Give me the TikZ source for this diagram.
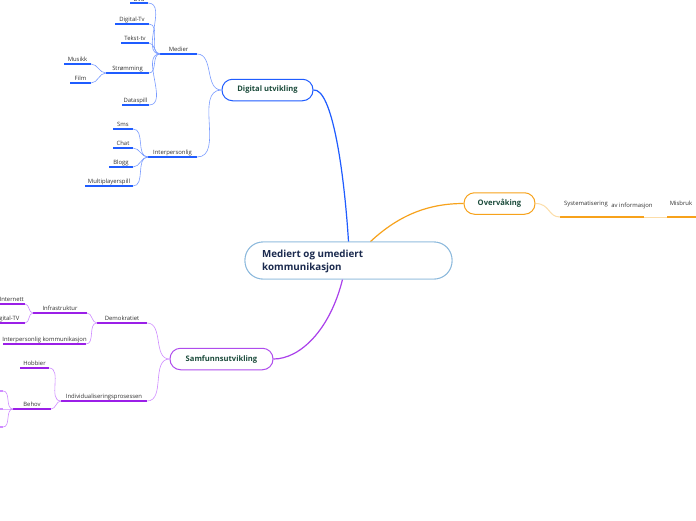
\documentclass[tikz,border=0pt]{standalone}
\usepackage{fontspec}
\setmainfont{Open Sans}
\definecolor{labc}{HTML}{333333}
\definecolor{bdark}{HTML}{1F5CFF}
\definecolor{blight}{HTML}{7A9CFF}
\definecolor{odark}{HTML}{F7A21B}
\definecolor{olight}{HTML}{FCDDA8}
\definecolor{pdark}{HTML}{9B1FE8}
\definecolor{plight}{HTML}{CF8CFF}
\definecolor{topictext}{HTML}{1B4B3B}
\definecolor{maintext}{HTML}{1B2A4E}
\definecolor{mainborder}{HTML}{8AB8DC}
\newcommand\leaf[6]{%
  \coordinate (#1-l) at (#2,#4);
  \coordinate (#1-r) at (#3,#4);
  \draw[#5] (#1-l) -- (#1-r);
  \node[lbl] (#1) at ({(#2+#3)/2},{#4-3}) {#6};
}
\begin{document}
\begin{tikzpicture}[x=1pt,y=-1pt,
  lbl/.style={font=\fontsize{5.9}{7}\selectfont, text=labc, inner sep=0pt, anchor=base},
  ulb/.style={draw=bdark, line width=1.3pt},
  cnb/.style={draw=blight, line width=0.6pt},
  ulo/.style={draw=odark, line width=1.3pt},
  cno/.style={draw=olight, line width=1pt},
  ulp/.style={draw=pdark, line width=1.3pt},
  cnp/.style={draw=plight, line width=0.6pt},
  topic/.style={rounded corners=10.5pt, line width=1pt, fill=white, minimum height=21.5pt,
     inner sep=0pt, font=\bfseries\fontsize{7.6}{9}\selectfont, text=topictext},
]
\useasboundingbox (0,0) rectangle (696,520);
\fill[white] (0,0) rectangle (696,520);
\clip (0,0) rectangle (696,520);

% ---------- main topic and connectors ----------
\node[draw=mainborder, line width=0.9pt, rounded corners=18pt, fill=white,
      minimum width=207pt, minimum height=37pt, inner sep=0pt] (mn) at (348.5,260.5) {};
\node[topic, draw=bdark, minimum width=91pt] (du) at (267.5,90) {Digital utvikling};
\node[topic, draw=odark, minimum width=71pt] (ov) at (499.5,203.5) {Overvåking};
\node[topic, draw=pdark!80!white, minimum width=103pt] (sam) at (221.5,359) {Samfunnsutvikling};

\draw[draw=bdark, line width=1.2pt] (du.east) .. controls (332,88) and (344,170) .. (mn.north);
\draw[draw=odark, line width=1.2pt] ([xshift=22pt]mn.north) .. controls (400,214) and (430,203.5) .. (ov.west);
\draw[draw=pdark!85!white, line width=1.2pt] ([xshift=-6pt]mn.south) .. controls (330,330) and (300,359) .. (sam.east);

\node[draw=mainborder, line width=0.9pt, rounded corners=18pt, fill=white,
      minimum width=207pt, minimum height=37pt, inner sep=0pt] (mn2) at (348.5,260.5) {};
\node[anchor=west, align=left, inner sep=0pt, text=maintext,
      font=\bfseries\fontsize{9.8}{13}\selectfont] (mt) at (262,261.5)
      {Mediert og umediert\\kommunikasjon};

% ---------- Digital utvikling ----------
\leaf{med}{160}{197}{54}{ulb}{Medier}
\leaf{inter}{148}{197}{157}{ulb}{Interpersonlig}
\draw[cnb] (du.west) to[out=180,in=0] (med-r);
\draw[cnb] (du.west) to[out=180,in=0] (inter-r);

\coordinate (dvd-l) at (130,3); \coordinate (dvd-r) at (148,3);
\draw[ulb] (dvd-l) -- (dvd-r);
\node[lbl] (dvd) at (139,1.3) {Dvd};
\leaf{dtv}{115}{149}{24}{ulb}{Digital-Tv}
\leaf{tekst}{121}{149}{43}{ulb}{Tekst-tv}
\leaf{strom}{106}{149}{73}{ulb}{Strømming}
\leaf{data}{122}{149}{105}{ulb}{Dataspill}
\foreach \c in {dvd,dtv,tekst,strom,data}{\draw[cnb] (\c-r) to[out=0,in=180] (med-l);}

\leaf{musikk}{64}{91}{64}{ulb}{Musikk}
\leaf{film}{70}{91}{83}{ulb}{Film}
\draw[cnb] (musikk-r) to[out=0,in=180] (strom-l);
\draw[cnb] (film-r) to[out=0,in=180] (strom-l);

\leaf{sms}{113}{133}{129}{ulb}{Sms}
\leaf{chat}{113}{133}{148}{ulb}{Chat}
\leaf{blogg}{109}{133}{167}{ulb}{Blogg}
\leaf{multi}{85}{133}{186}{ulb}{Multiplayerspill}
\foreach \c in {sms,chat,blogg,multi}{\draw[cnb] (\c-r) to[out=0,in=180] (inter-l);}

% ---------- Overvaking ----------
\coordinate (syst-l) at (560,217);
\coordinate (syst-r) at (644,217);
\draw[ulo] (syst-l) -- (syst-r);
\node[lbl] (syst) at (586,205) {Systematisering};
\node[lbl] (syst2) at (632,207) {av informasjon};
\draw[cno] (ov.east) .. controls (550,203.5) and (548,217) .. (syst-l);
\coordinate (misbruk-l) at (667,217); \coordinate (misbruk-r) at (700,217);
\draw[ulo] (misbruk-l) -- (misbruk-r);
\node[lbl] (misbruk) at (681,205) {Misbruk};
\draw[cno] (syst-r) -- (misbruk-l);

% ---------- Samfunnsutvikling ----------
\leaf{demo}{97}{147}{323}{ulp}{Demokratiet}
\leaf{indiv}{61}{147}{401}{ulp}{Individualiseringsprosessen}
\draw[cnp] (sam.west) to[out=180,in=0] (demo-r);
\draw[cnp] (sam.west) to[out=180,in=0] (indiv-r);

\leaf{infra}{33}{87}{313}{ulp}{Infrastruktur}
\leaf{ipk}{3}{86}{344}{ulp}{Interpersonlig kommunikasjon}
\draw[cnp] (infra-r) to[out=0,in=180] (demo-l);
\draw[cnp] (ipk-r) to[out=0,in=180] (demo-l);

\coordinate (inett-l) at (-5,304); \coordinate (inett-r) at (25,304);
\draw[ulp] (inett-l) -- (inett-r);
\node[lbl, anchor=base east] (inett) at (24,301) {Internett};
\coordinate (dgtv-l) at (-5,323); \coordinate (dgtv-r) at (25,323);
\draw[ulp] (dgtv-l) -- (dgtv-r);
\node[lbl, anchor=base east] (dgtv) at (19.5,320) {Digital-TV};
\draw[cnp] (inett-r) to[out=0,in=180] (infra-l);
\draw[cnp] (dgtv-r) to[out=0,in=180] (infra-l);

\leaf{hob}{20}{49}{368}{ulp}{Hobbier}
\leaf{behov}{13}{51}{409}{ulp}{Behov}
\draw[cnp] (hob-r) to[out=0,in=180] (indiv-l);
\draw[cnp] (behov-r) to[out=0,in=180] (indiv-l);

\coordinate (b1-l) at (-10,391); \coordinate (b1-r) at (3,391);
\coordinate (b2-l) at (-10,409); \coordinate (b2-r) at (3,409);
\coordinate (b3-l) at (-10,427); \coordinate (b3-r) at (3,427);
\draw[ulp, draw=plight] (b1-l) -- (b1-r);
\draw[ulp, draw=plight] (b2-l) -- (b2-r);
\draw[ulp, draw=plight] (b3-l) -- (b3-r);
\foreach \c in {b1,b2,b3}{\draw[cnp] (\c-r) to[out=0,in=180] (behov-l);}
\end{tikzpicture}
\end{document}
